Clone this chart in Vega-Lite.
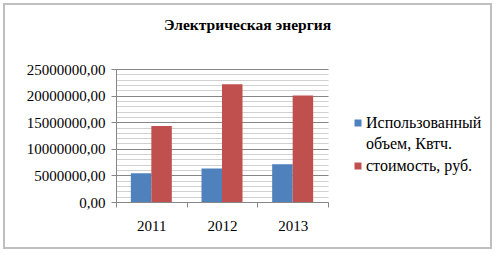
{
  "$schema": "https://vega.github.io/schema/vega-lite/v6.json",
  "width": 487,
  "height": 244,
  "autosize": {"type": "none"},
  "padding": {"left": 4, "top": 4, "right": 5, "bottom": 7},
  "background": "white",
  "config": {
    "view": {"stroke": "#bfbfbf", "strokeWidth": 2, "fill": "white"},
    "font": "Liberation Serif",
    "axis": {"labelFont": "Liberation Serif"},
    "legend": {"labelFont": "Liberation Serif"}
  },
  "title": {
    "text": "Электрическая энергия",
    "font": "Liberation Serif",
    "fontSize": 15.5,
    "fontWeight": "bold",
    "color": "#000000",
    "anchor": "middle",
    "baseline": "alphabetic",
    "offset": -41
  },
  "data": {
    "values": [
      {"year": "2011", "series": "Использованный объем, Квтч.", "value": 5400000},
      {"year": "2011", "series": "стоимость, руб.", "value": 14300000},
      {"year": "2012", "series": "Использованный объем, Квтч.", "value": 6300000},
      {"year": "2012", "series": "стоимость, руб.", "value": 22150000},
      {"year": "2013", "series": "Использованный объем, Квтч.", "value": 7100000},
      {"year": "2013", "series": "стоимость, руб.", "value": 20000000}
    ]
  },
  "mark": {"type": "bar"},
  "encoding": {
    "x": {
      "field": "year",
      "type": "nominal",
      "scale": {"range": [112, 324], "paddingInner": 0, "paddingOuter": 0},
      "axis": {
        "title": null,
        "orient": "bottom",
        "offset": -46,
        "labelAngle": 0,
        "labelFont": "Liberation Serif",
        "labelFontSize": 15,
        "labelColor": "#000000",
        "labelPadding": 11,
        "tickBand": "extent",
        "tickSize": 5,
        "tickColor": "#868686",
        "domainColor": "#868686",
        "grid": false
      }
    },
    "xOffset": {
      "field": "series",
      "type": "nominal",
      "scale": {"paddingInner": 0, "paddingOuter": 0.724}
    },
    "y": {
      "field": "value",
      "type": "quantitative",
      "scale": {"domain": [0, 25000000], "range": [198, 65], "nice": false, "zero": true},
      "axis": {
        "title": null,
        "orient": "left",
        "offset": -112,
        "values": [0, 1000000, 2000000, 3000000, 4000000, 5000000, 6000000, 7000000, 8000000, 9000000, 10000000, 11000000, 12000000, 13000000, 14000000, 15000000, 16000000, 17000000, 18000000, 19000000, 20000000, 21000000, 22000000, 23000000, 24000000, 25000000],
        "labelExpr": "datum.value % 5000000 === 0 ? format(datum.value, 'd') + ',00' : ''",
        "labelFont": "Liberation Serif",
        "labelFontSize": 15,
        "labelColor": "#000000",
        "labelPadding": 6,
        "labelOverlap": false,
        "tickSize": 5,
        "tickColor": {"condition": {"test": "datum.value % 5000000 === 0", "value": "#868686"}, "value": "transparent"},
        "domainColor": "#868686",
        "grid": true,
        "gridColor": {"condition": {"test": "datum.value % 5000000 === 0", "value": "#868686"}, "value": "#d0d0d0"},
        "gridOpacity": 1
      }
    },
    "color": {
      "field": "series",
      "type": "nominal",
      "scale": {"domain": ["Использованный объем, Квтч.", "стоимость, руб."], "range": ["#4F81BD", "#C0504D"]},
      "legend": {
        "title": null,
        "orient": "none",
        "legendX": 346,
        "legendY": 111,
        "padding": 0,
        "symbolType": "square",
        "symbolSize": 49,
        "symbolStrokeWidth": 0,
        "labelFont": "Liberation Serif",
        "labelFontSize": 16,
        "labelColor": "#000000",
        "labelOffset": 0,
        "labelLimit": 200,
        "rowPadding": 6,
        "labelExpr": "datum.value === 'Использованный объем, Квтч.' ? ['Использованный', 'объем, Квтч.'] : datum.label",
        "encode": {"labels": {"update": {"lineHeight": {"value": 21}}}}
      }
    }
  }
}
